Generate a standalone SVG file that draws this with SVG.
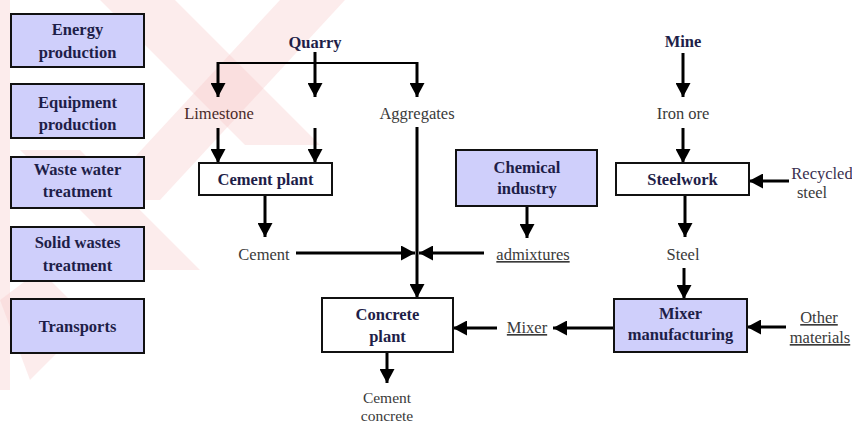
<svg xmlns="http://www.w3.org/2000/svg" width="852" height="426" viewBox="0 0 852 426">
<defs>
<marker id="ah" markerUnits="userSpaceOnUse" markerWidth="15" markerHeight="15" refX="14" refY="7.5" orient="auto">
<path d="M0,0 L14,7.5 L0,15 z" fill="#000"/>
</marker>
<style>
text{font-family:'Liberation Serif','Times New Roman','DejaVu Serif',serif;font-size:16.5px;text-anchor:middle}
.box{stroke:#111;stroke-width:2}
.lav{fill:#cfcffb}
.wht{fill:#fff}
.b{font-weight:bold;fill:#1e1e48}
.t{fill:#3a3a3a}
.u{text-decoration:underline}
.c{stroke:#000;stroke-width:3;fill:none}
.ca{stroke:#000;stroke-width:3;fill:none;marker-end:url(#ah)}
.wm{fill:#f6c8c8;opacity:0.35}
</style>
</defs>
<rect width="852" height="426" fill="#fff"/>
<g id="watermark">
<polygon class="wm" points="0,0 10,0 10,390 0,390"/>
<polygon class="wm" points="100,0 175,0 320,145 245,145"/>
<polygon class="wm" points="280,0 345,0 160,200 95,200"/>
<polygon class="wm" points="20,150 80,150 200,270 140,270"/>
<polygon class="wm" points="0,300 40,270 90,320 30,380"/>
</g>
<g id="connectors">
<line class="ca" x1="315" y1="52" x2="315" y2="97"/>
<line class="c" x1="218" y1="63" x2="417" y2="63" style="stroke-width:2"/>
<line class="ca" x1="218" y1="62" x2="218" y2="97"/>
<line class="ca" x1="417" y1="62" x2="417" y2="97"/>
<line class="ca" x1="218" y1="128" x2="218" y2="163"/>
<line class="ca" x1="315" y1="128" x2="315" y2="163"/>
<line class="ca" x1="265" y1="195" x2="265" y2="237"/>
<line class="ca" x1="296" y1="253" x2="415" y2="253"/>
<line class="ca" x1="484" y1="253" x2="419" y2="253"/>
<line class="ca" x1="417" y1="127" x2="417" y2="298"/>
<line class="ca" x1="527" y1="206" x2="527" y2="238"/>
<line class="ca" x1="387" y1="352" x2="387" y2="383"/>
<line class="ca" x1="497" y1="328" x2="453" y2="328"/>
<line class="ca" x1="614" y1="328" x2="553" y2="328"/>
<line class="ca" x1="683" y1="53" x2="683" y2="97"/>
<line class="ca" x1="683" y1="128" x2="683" y2="163"/>
<line class="ca" x1="789" y1="181" x2="749" y2="181"/>
<line class="ca" x1="685" y1="195" x2="685" y2="237"/>
<line class="ca" x1="684" y1="268" x2="684" y2="299"/>
<line class="ca" x1="786" y1="327" x2="747" y2="327"/>
</g>
<g id="energy"><rect class="box lav" x="11" y="14" width="133" height="53"/><text class="b" x="77.5" y="35">Energy</text><text class="b" x="77.5" y="58">production</text></g>
<g id="equipment"><rect class="box lav" x="11" y="84" width="133" height="54"/><text class="b" x="77.5" y="108">Equipment</text><text class="b" x="77.5" y="130">production</text></g>
<g id="wastewater"><rect class="box lav" x="11" y="157" width="133" height="51"/><text class="b" x="77.5" y="175">Waste water</text><text class="b" x="77.5" y="197">treatment</text></g>
<g id="solidwastes"><rect class="box lav" x="11" y="227" width="133" height="54"/><text class="b" x="77.5" y="248">Solid wastes</text><text class="b" x="77.5" y="271">treatment</text></g>
<g id="transports"><rect class="box lav" x="11" y="299" width="133" height="54"/><text class="b" x="77.5" y="332">Transports</text></g>
<g id="quarry"><text class="b" x="315" y="48">Quarry</text></g>
<g id="limestone"><text class="t" x="219" y="119" style="fill:#4a2a2a">Limestone</text></g>
<g id="aggregates"><text class="t" x="417" y="119">Aggregates</text></g>
<g id="cementplant"><rect class="box wht" x="199" y="163" width="133" height="32"/><text class="b" x="265.5" y="185">Cement plant</text></g>
<g id="cement"><text class="t" x="264" y="260">Cement</text></g>
<g id="chemical"><rect class="box lav" x="456" y="150" width="141" height="56"/><text class="b" x="527" y="173">Chemical</text><text class="b" x="527" y="194">industry</text></g>
<g id="admixtures"><text class="t u" x="533" y="260">admixtures</text></g>
<g id="concreteplant"><rect class="box wht" x="322" y="298" width="131" height="54"/><text class="b" x="387.5" y="320">Concrete</text><text class="b" x="387.5" y="342">plant</text></g>
<g id="cementconcrete"><text class="t" x="387" y="403" style="font-size:15.5px">Cement</text><text class="t" x="387" y="421" style="font-size:15.5px">concrete</text></g>
<g id="mixer"><text class="t u" x="527" y="333">Mixer</text></g>
<g id="mine"><text class="b" x="683" y="47">Mine</text></g>
<g id="ironore"><text class="t" x="683" y="119">Iron ore</text></g>
<g id="steelwork"><rect class="box wht" x="616" y="163" width="133" height="32"/><text class="b" x="682.5" y="185">Steelwork</text></g>
<g id="recycled"><text class="t" x="822" y="179" style="fill:#3a3050">Recycled</text><text class="t" x="812" y="198">steel</text></g>
<g id="steel"><text class="t" x="683" y="260">Steel</text></g>
<g id="mixermanufacturing"><rect class="box lav" x="614" y="299" width="133" height="53"/><text class="b" x="680.5" y="319">Mixer</text><text class="b" x="680.5" y="340">manufacturing</text></g>
<g id="other"><text class="t u" x="819" y="323">Other</text><text class="t u" x="820" y="343">materials</text></g>
</svg>
